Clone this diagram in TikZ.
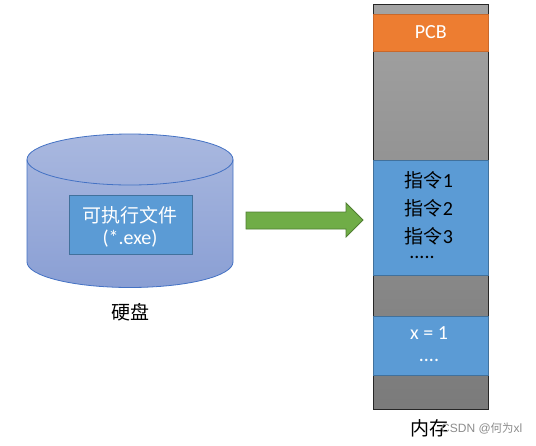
\documentclass[tikz,border=0pt]{standalone}
\usepackage{fontspec}
\setmainfont{Carlito}
\newfontfamily\cjk{Noto Sans CJK SC}[Scale=0.95]
\newfontfamily\wm{Liberation Sans}
\definecolor{blk}{HTML}{5B9BD5}
\definecolor{blkb}{HTML}{41719C}
\definecolor{org}{HTML}{ED7D31}
\definecolor{orgb}{HTML}{C9682A}
\definecolor{cylb}{HTML}{4472C4}
\definecolor{cyltop}{HTML}{A9B8DF}
\definecolor{cylbot}{HTML}{8A9FD4}
\definecolor{grn}{HTML}{70AD47}
\definecolor{grnb}{HTML}{507E32}
\tikzset{
  x=1pt,y=-1pt,
  blockbox/.style={draw=blkb,line width=0.9pt,fill=blk,minimum width=115pt,inner sep=0pt,align=center},
  lbl/.style={font=\fontsize{20}{24}\selectfont,text=black},
}
\begin{document}
\begin{tikzpicture}
\useasboundingbox (0,0) rectangle (536,445);
% memory
\node[draw=black!85,line width=1pt,top color=black!36,bottom color=black!52,minimum width=115pt,minimum height=404.5pt,inner sep=0pt,anchor=north west] (mem) at (373,4) {};
\node[draw=orgb,line width=0.9pt,fill=org,minimum width=115.5pt,minimum height=37pt,inner sep=0pt,anchor=north west,text=white,font=\fontsize{20}{24}\selectfont] (pcb) at (372.5,13.5) {PCB};
\node[blockbox,minimum height=115pt,anchor=north west] (code) at (373,159.5) {};
\node[lbl] (l1) at (429,180) {{\cjk 指令}1};
\node[lbl] (l2) at (429,208) {{\cjk 指令}2};
\node[lbl] (l3) at (429,236) {{\cjk 指令}3};
\node[lbl,inner sep=0pt] (l4) at (422,257.5) {.....};
\node[blockbox,minimum height=59pt,anchor=north west] (data) at (373,316) {};
\node[lbl,text=white] (x) at (429,333) {x = 1};
\node[lbl,text=white,inner sep=0pt] (dots) at (429,360) {....};
% disk
\path[draw=cylb,line width=0.8pt,top color=cyltop,bottom color=cylbot]
  (27,159.5) -- (27,262) arc[start angle=180,end angle=360,x radius=103,y radius=-25.5] -- (233,159.5)
  arc[start angle=0,end angle=180,x radius=103,y radius=-25.5] -- cycle;
\path[draw=cylb,line width=0.8pt]
  (27,159.5) arc[start angle=180,end angle=360,x radius=103,y radius=-25.5];
\node[draw=blkb,line width=0.9pt,fill=blk,minimum width=122.5pt,minimum height=59pt,inner sep=0pt,anchor=north west] (exe) at (69,195) {};
\node[text=white,align=center,inner sep=0pt,font=\fontsize{20}{22}\selectfont] (exetext) at (130,226.5) {{\cjk 可执行文件}\\(*.exe)};
\node[lbl] (disk) at (130,312) {\cjk 硬盘};
\node[lbl] (memlbl) at (429,428) {\cjk 内存};
% arrow
\path[draw=grnb,line width=0.8pt,fill=grn]
  (246,212) -- (346,212) -- (346,203) -- (363,220) -- (346,237) -- (346,229) -- (246,229) -- cycle;
% watermark
\node[text=black!45,font=\wm\fontsize{12}{14}\selectfont,inner sep=0pt,anchor=west] (wm) at (441,429) {CSDN @{\cjk 何为}xl};
\end{tikzpicture}
\end{document}
